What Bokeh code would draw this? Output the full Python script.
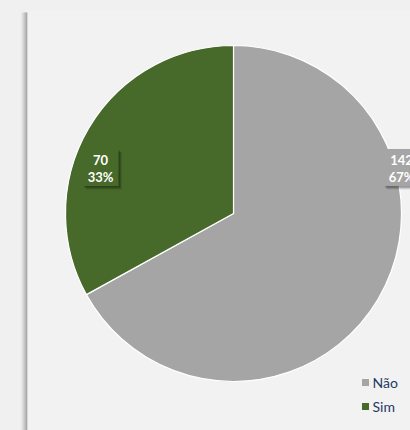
import numpy as np
from bokeh.plotting import figure
from bokeh.models import Range1d, ColumnDataSource
from bokeh.core.properties import value
from bokeh.embed import file_html
from bokeh.resources import INLINE

# ---- data ----
categories = ["Não", "Sim"]
counts = [142, 70]
percents = ["67%", "33%"]
colors = ["#a5a5a5", "#476a2a"]

W, H = 410, 430
p = figure(width=W, height=H, output_backend="svg", toolbar_location=None,
           x_range=Range1d(0, W), y_range=Range1d(0, H), min_border=0)
p.axis.visible = False
p.grid.visible = False
p.outline_line_color = None
p.background_fill_color = "#f0f0f0"
p.border_fill_color = "#f0f0f0"

# panel with left shadow
shadow_cols = ["#ececec", "#e2e2e2", "#d4d4d4", "#c4c4c4", "#b2b2b2", "#a0a0a0", "#8e8e8e"]
for i, c in enumerate(shadow_cols):
    p.quad(left=20 + i, right=21 + i, top=H - 12, bottom=0,
           fill_color=c, line_color=None)
p.quad(left=27, right=W, top=H - 10, bottom=0, fill_color="#f2f2f2", line_color=None)

# pie
cx, cy, R = 233, 217, 168
total = sum(counts)
sim_frac = counts[1] / total
a0 = np.pi / 2
starts = [a0 + sim_frac * 2 * np.pi, a0]
ends = [a0 + 2 * np.pi, a0 + sim_frac * 2 * np.pi]
src = ColumnDataSource(dict(cat=categories, start=starts, end=ends, color=colors,
                            x=[cx, cx], y=[cy, cy]))
p.wedge(x="x", y="y", radius=R, start_angle="start", end_angle="end",
        fill_color="color", line_color="white", line_width=1.2, source=src)

# data labels (Não outside right, Sim inside left)
label_pos = [
    (cx + R, cy + 46),
    (cx - 133, cy + 46),
]
bw, bh = 36, 37
for i in range(2):
    lx, ly = label_pos[i]
    for off, a in [(3.5, 0.10), (2.5, 0.14), (1.5, 0.18)]:
        p.rect(x=lx + off, y=ly - off, width=bw, height=bh, fill_color="#000000",
               fill_alpha=a, line_color=None)
    p.rect(x=lx, y=ly, width=bw, height=bh, fill_color=colors[i], line_color=None)
    p.text(x=[lx, lx], y=[ly + 8, ly - 9], text=[str(counts[i]), percents[i]],
           text_color="white", text_font=value("Lato"), text_font_style="bold",
           text_font_size="13px", text_align="center", text_baseline="middle")

# legend (drawn manually)
leg_x, leg_y0, leg_dy = 365, H - 382, 24
leg_ys = [leg_y0 - i * leg_dy for i in range(len(categories))]
p.scatter(x=[leg_x] * 2, y=leg_ys, marker="square", size=7, color=colors, line_color=None)
p.text(x=[leg_x + 7] * 2, y=leg_ys, text=categories, text_color="#1f3864",
       text_font=value("Lato"), text_font_size="14px", text_baseline="middle",
       text_align="left")

html = file_html(p, INLINE)
html = html.replace("<body>", '<body style="background:#f0f0f0">')
open("out.html", "w").write(html)
